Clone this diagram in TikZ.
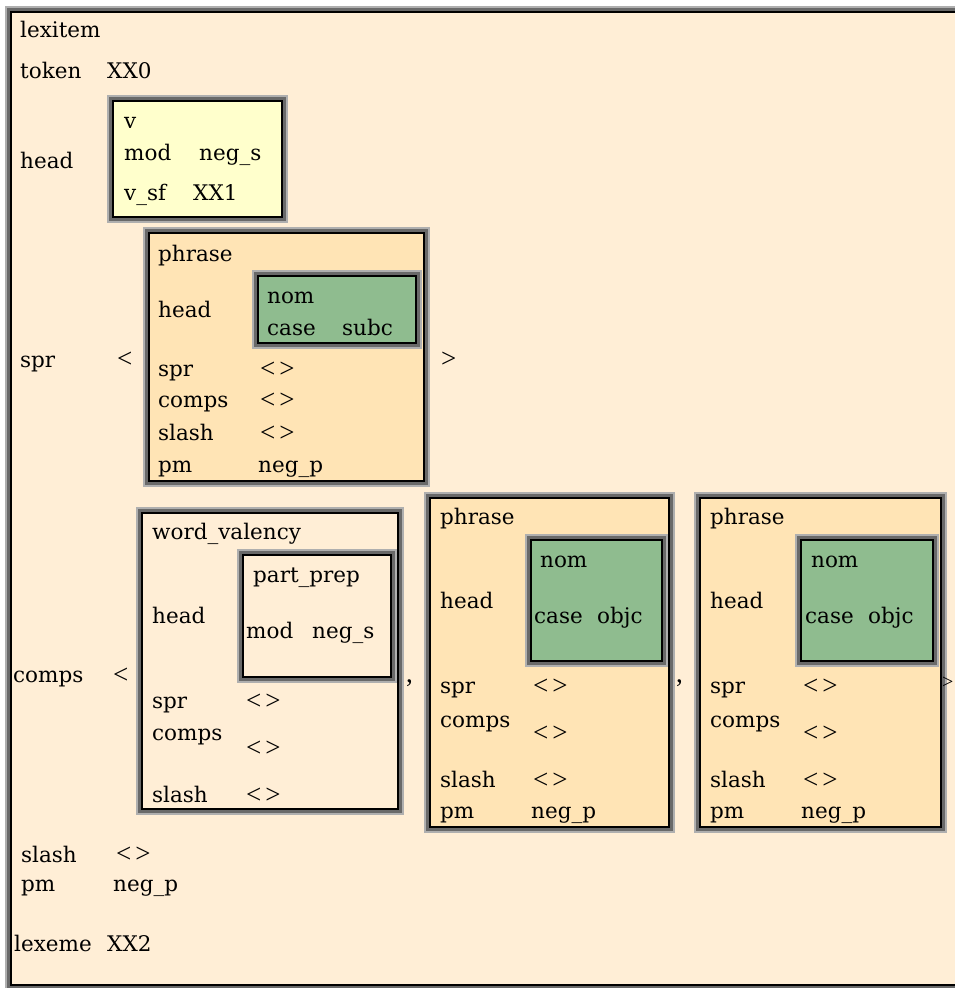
\documentclass[tikz,border=0pt]{standalone}
\usepackage{fontspec}
\setmainfont{DejaVu Serif}
\newfontfamily\lib{Liberation Serif}
\definecolor{bgcream}{RGB}{255,238,214}
\definecolor{orng}{RGB}{255,228,181}
\definecolor{yell}{RGB}{255,255,204}
\definecolor{grn}{RGB}{143,188,143}
\definecolor{bevlight}{RGB}{175,175,175}
\definecolor{bevmid}{RGB}{105,105,105}
\tikzset{
  bev/.style={rectangle, draw=black, line width=2pt, inner sep=0pt,
    preaction={draw=bevlight, line width=12pt},
    preaction={draw=bevmid, line width=8pt}},
  lbl/.style={anchor=base west, inner sep=0pt, font=\fontsize{21.5}{24}\selectfont},
  brk/.style={anchor=base west, inner sep=0pt, font=\fontsize{27}{28}\selectfont\lib},
}
\newcommand{\ang}{<\hspace{4pt}>}
\begin{document}
\begin{tikzpicture}[x=1pt,y=-1pt]
\useasboundingbox (0,0) rectangle (954,988);
\fill[white] (0,0) rectangle (954,988);
% outer frame
\node[bev, fill=bgcream, minimum width=959pt, minimum height=973.5pt] (frame) at (490.5,498.25) {};
% boxes
\node[bev, fill=yell, minimum width=169pt, minimum height=116pt] (vbox) at (197.5,159) {};
\node[bev, fill=orng, minimum width=275pt, minimum height=248pt] (ph1) at (286.5,357) {};
\node[bev, fill=grn, minimum width=158pt, minimum height=67pt] (g1) at (337,309.5) {};
\node[bev, fill=bgcream, minimum width=256pt, minimum height=296pt] (wv) at (270,661) {};
\node[bev, fill=bgcream, minimum width=148pt, minimum height=122pt] (pp) at (317,616) {};
\node[bev, fill=orng, minimum width=239pt, minimum height=329pt] (ph2) at (549.5,662.5) {};
\node[bev, fill=grn, minimum width=131pt, minimum height=121pt] (g2) at (596.5,600.5) {};
\node[bev, fill=orng, minimum width=241pt, minimum height=329pt] (ph3) at (820.5,662.5) {};
\node[bev, fill=grn, minimum width=132pt, minimum height=121pt] (g3) at (867,600.5) {};
% outer texts
\node[lbl] (t-lexitem) at (20,37) {lexitem};
\node[lbl] (t-token) at (20,78) {token};
\node[lbl] (t-xx0) at (107,78) {XX0};
\node[lbl] (t-head) at (20,168) {head};
\node[lbl] (t-spr) at (20,367) {spr};
\node[brk] (t-sprl) at (117,367) {<};
\node[brk] (t-sprr) at (441,367) {>};
\node[lbl] (t-comps) at (13,682) {comps};
\node[brk] (t-compsl) at (113,683) {<};
\node[lbl] (t-slash) at (21,862) {slash};
\node[brk] (t-slashv) at (116,862) {\ang};
\node[lbl] (t-pm) at (21,891) {pm};
\node[lbl] (t-pmv) at (113,891) {neg\_p};
\node[lbl] (t-lexeme) at (14,951) {lexeme};
\node[lbl] (t-xx2) at (107,951) {XX2};
% yellow box
\node[lbl] (v-type) at (124,128) {v};
\node[lbl] (v-mod) at (124,160) {mod};
\node[lbl] (v-modv) at (199,160) {neg\_s};
\node[lbl] (v-vsf) at (124,200) {v\_sf};
\node[lbl] (v-xx1) at (193,200) {XX1};
% phrase 1
\node[lbl] (a-type) at (158,261) {phrase};
\node[lbl] (a-head) at (158,317) {head};
\node[lbl] (a-nom) at (267,303) {nom};
\node[lbl] (a-case) at (267,335) {case};
\node[lbl] (a-subc) at (342,335) {subc};
\node[lbl] (a-spr) at (158,376) {spr};
\node[brk] (a-sprv) at (260,377) {\ang};
\node[lbl] (a-comps) at (158,407) {comps};
\node[brk] (a-compsv) at (260,408) {\ang};
\node[lbl] (a-slash) at (158,440) {slash};
\node[brk] (a-slashv) at (260,441) {\ang};
\node[lbl] (a-pm) at (158,472) {pm};
\node[lbl] (a-pmv) at (258,472) {neg\_p};
% word valency
\node[lbl] (b-type) at (152,539) {word\_valency};
\node[lbl] (b-pp) at (253,582) {part\_prep};
\node[lbl] (b-head) at (152,623) {head};
\node[lbl] (b-mod) at (246,638) {mod};
\node[lbl] (b-modv) at (312,638) {neg\_s};
\node[lbl] (b-spr) at (152,708) {spr};
\node[brk] (b-sprv) at (246,709) {\ang};
\node[lbl] (b-comps) at (152,740) {comps};
\node[brk] (b-compsv) at (246,756) {\ang};
\node[lbl] (b-slash) at (152,802) {slash};
\node[brk] (b-slashv) at (246,803) {\ang};
\node[brk] (b-comma) at (406,682) {,};
% phrase 2
\node[lbl] (c-type) at (440,524) {phrase};
\node[lbl] (c-head) at (440,608) {head};
\node[lbl] (c-nom) at (540,567) {nom};
\node[lbl] (c-case) at (534,623) {case};
\node[lbl] (c-objc) at (597,623) {objc};
\node[lbl] (c-spr) at (440,693) {spr};
\node[brk] (c-sprv) at (533,694) {\ang};
\node[lbl] (c-comps) at (440,727) {comps};
\node[brk] (c-compsv) at (533,741) {\ang};
\node[lbl] (c-slash) at (440,787) {slash};
\node[brk] (c-slashv) at (533,788) {\ang};
\node[lbl] (c-pm) at (440,818) {pm};
\node[lbl] (c-pmv) at (531,818) {neg\_p};
\node[brk] (c-comma) at (676,682) {,};
% phrase 3
\node[lbl] (d-type) at (710,524) {phrase};
\node[lbl] (d-head) at (710,608) {head};
\node[lbl] (d-nom) at (811,567) {nom};
\node[lbl] (d-case) at (805,623) {case};
\node[lbl] (d-objc) at (868,623) {objc};
\node[lbl] (d-spr) at (710,693) {spr};
\node[brk] (d-sprv) at (803,694) {\ang};
\node[lbl] (d-comps) at (710,727) {comps};
\node[brk] (d-compsv) at (803,741) {\ang};
\node[lbl] (d-slash) at (710,787) {slash};
\node[brk] (d-slashv) at (803,788) {\ang};
\node[lbl] (d-pm) at (710,818) {pm};
\node[lbl] (d-pmv) at (801,818) {neg\_p};
\node[anchor=base west, inner sep=0pt, font=\fontsize{20}{22}\selectfont\lib] (d-close) at (942,688) {>};
\end{tikzpicture}
\end{document}
